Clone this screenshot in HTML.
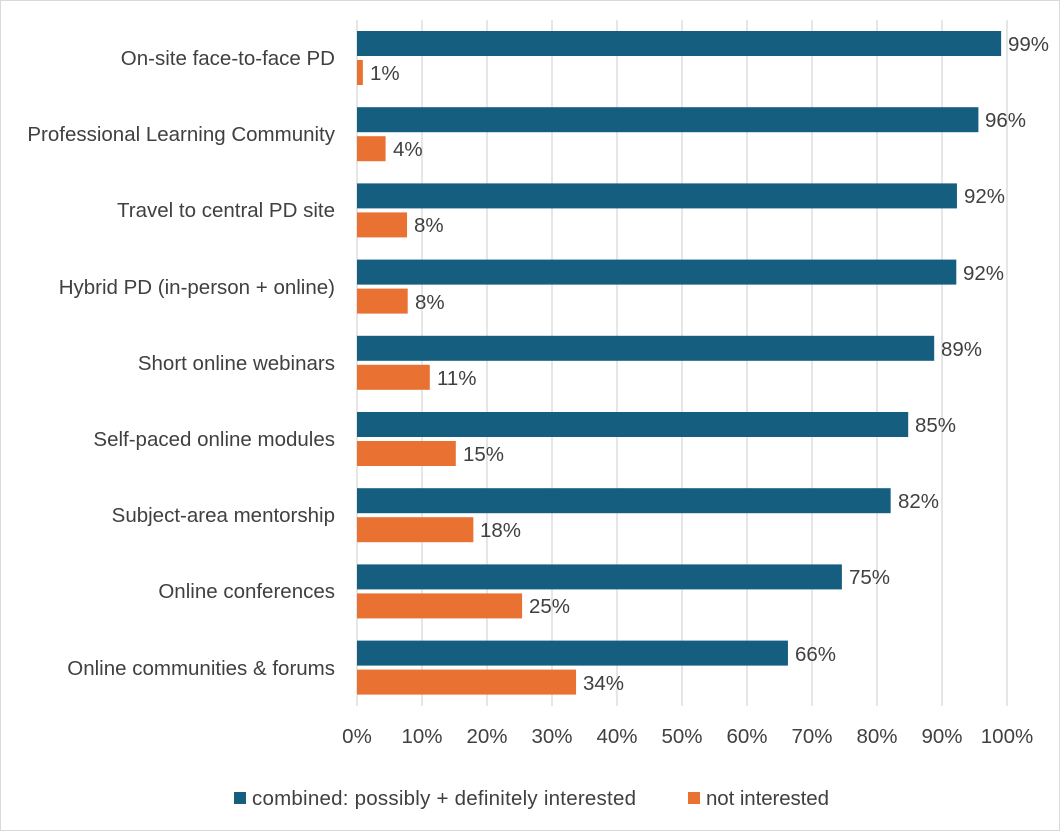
<!DOCTYPE html>
<html><head><meta charset="utf-8"><style>
body{margin:0;background:#fff}
svg text{font-family:"Liberation Sans",sans-serif;fill:#404040;font-size:20.5px}
</style></head><body>
<svg width="1060" height="831" xmlns="http://www.w3.org/2000/svg">
<rect x="0.5" y="0.5" width="1059" height="830" fill="#fff" stroke="#d9d9d9"/>
<g stroke="#d9d9d9" stroke-width="1.3">
<line x1="357" y1="20" x2="357" y2="706"/><line x1="422" y1="20" x2="422" y2="706"/><line x1="487" y1="20" x2="487" y2="706"/><line x1="552" y1="20" x2="552" y2="706"/><line x1="617" y1="20" x2="617" y2="706"/><line x1="682" y1="20" x2="682" y2="706"/><line x1="747" y1="20" x2="747" y2="706"/><line x1="812" y1="20" x2="812" y2="706"/><line x1="877" y1="20" x2="877" y2="706"/><line x1="942" y1="20" x2="942" y2="706"/><line x1="1007" y1="20" x2="1007" y2="706"/>
</g>
<g fill="#155e7f">
<rect x="357" y="31" width="644.15" height="25"/>
<rect x="357" y="107.2" width="621.4" height="25"/>
<rect x="357" y="183.4" width="599.95" height="25"/>
<rect x="357" y="259.6" width="599.3" height="25"/>
<rect x="357" y="335.8" width="577.2" height="25"/>
<rect x="357" y="412" width="551.2" height="25"/>
<rect x="357" y="488.2" width="533.65" height="25"/>
<rect x="357" y="564.4" width="484.9" height="25"/>
<rect x="357" y="640.6" width="430.95" height="25"/>
</g>
<g fill="#e97132">
<rect x="357" y="60" width="5.85" height="25"/>
<rect x="357" y="136.2" width="28.6" height="25"/>
<rect x="357" y="212.4" width="50.05" height="25"/>
<rect x="357" y="288.6" width="50.7" height="25"/>
<rect x="357" y="364.8" width="72.8" height="25"/>
<rect x="357" y="441" width="98.8" height="25"/>
<rect x="357" y="517.2" width="116.35" height="25"/>
<rect x="357" y="593.4" width="165.1" height="25"/>
<rect x="357" y="669.6" width="219.05" height="25"/>
</g>
<text x="1008" y="51">99%</text><text x="370" y="80">1%</text>
<text x="985" y="127">96%</text><text x="393" y="156">4%</text>
<text x="964" y="203">92%</text><text x="414" y="232">8%</text>
<text x="963" y="280">92%</text><text x="415" y="309">8%</text>
<text x="941" y="356">89%</text><text x="437" y="385">11%</text>
<text x="915" y="432">85%</text><text x="463" y="461">15%</text>
<text x="898" y="508">82%</text><text x="480" y="537">18%</text>
<text x="849" y="584">75%</text><text x="529" y="613">25%</text>
<text x="795" y="661">66%</text><text x="583" y="690">34%</text>
<g text-anchor="end">
<text x="335" y="65">On-site face-to-face PD</text>
<text x="335" y="141">Professional Learning Community</text>
<text x="335" y="217">Travel to central PD site</text>
<text x="335" y="294">Hybrid PD (in-person + online)</text>
<text x="335" y="370">Short online webinars</text>
<text x="335" y="446">Self-paced online modules</text>
<text x="335" y="522">Subject-area mentorship</text>
<text x="335" y="598">Online conferences</text>
<text x="335" y="675">Online communities &amp; forums</text>
</g>
<g text-anchor="middle">
<text x="357" y="743">0%</text><text x="422" y="743">10%</text><text x="487" y="743">20%</text><text x="552" y="743">30%</text><text x="617" y="743">40%</text><text x="682" y="743">50%</text><text x="747" y="743">60%</text><text x="812" y="743">70%</text><text x="877" y="743">80%</text><text x="942" y="743">90%</text><text x="1007" y="743">100%</text>
</g>
<rect x="234" y="792" width="12" height="12" fill="#155e7f"/>
<text x="252" y="805" textLength="384">combined: possibly + definitely interested</text>
<rect x="688" y="792" width="12" height="12" fill="#e97132"/>
<text x="706" y="805" textLength="123">not interested</text>
</svg>
</body></html>
